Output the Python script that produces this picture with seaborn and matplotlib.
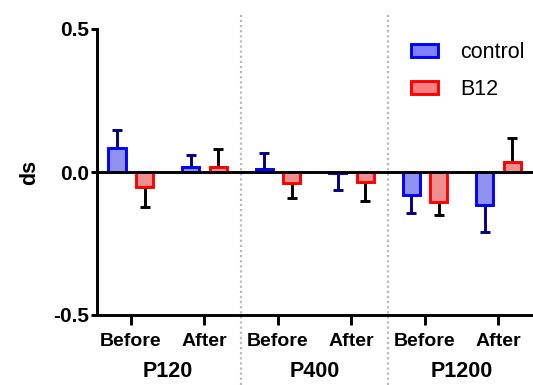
import numpy as np
import pandas as pd
import matplotlib
matplotlib.use("Agg")
import matplotlib.pyplot as plt
import seaborn as sns
from matplotlib.patches import Patch

# ---- data ----
conditions = ["Before", "After", "Before", "After", "Before", "After"]
groups = ["P120", "P400", "P1200"]
series = ["control", "B12"]
control_mean = [0.084, 0.017, 0.012, -0.004, -0.080, -0.115]
control_err = [0.063, 0.042, 0.054, 0.059, 0.063, 0.095]
b12_mean = [-0.052, 0.017, -0.038, -0.035, -0.105, 0.035]
b12_err = [0.070, 0.063, 0.053, 0.066, 0.045, 0.084]
yticks = [-0.5, 0.0, 0.5]

positions = [f"{g}-{c}" for g in groups for c in ["Before", "After"]]
df = pd.DataFrame({
    "pos": positions * 2,
    "series": ["control"] * 6 + ["B12"] * 6,
    "ds": control_mean + b12_mean,
    "err": control_err + b12_err,
})

sns.set_style("ticks")
plt.rcParams["font.family"] = ["Liberation Sans", "DejaVu Sans"]
plt.rcParams["text.color"] = "black"
plt.rcParams["xtick.color"] = "black"
plt.rcParams["ytick.color"] = "black"
plt.rcParams["axes.edgecolor"] = "black"
plt.rcParams["axes.labelcolor"] = "black"

fig = plt.figure(figsize=(5.33, 3.85), dpi=100)
ax = fig.add_axes([97 / 533, 1 - 315 / 385, 436 / 533, 286 / 385])

fill = {"control": "#8080FF", "B12": "#FF8080"}
edge = {"control": "#0000FF", "B12": "#FF0000"}
errc = {"control": "#00007F", "B12": "#000000"}
LW = 2.1

sns.barplot(data=df, x="pos", y="ds", hue="series", order=positions,
            hue_order=series, palette=fill, width=0.75, gap=0.38,
            errorbar=None, legend=False, ax=ax, zorder=3)

# style bars & error bars
n = len(positions)
for i, p in enumerate(ax.patches[:2 * n]):
    s = series[i // n]
    k = i % n
    p.set_edgecolor(edge[s])
    p.set_linewidth(LW)
    xc = p.get_x() + p.get_width() / 2
    m = control_mean[k] if s == "control" else b12_mean[k]
    e = control_err[k] if s == "control" else b12_err[k]
    yerr = [[0], [e]] if m >= 0 else [[e], [0]]
    ax.errorbar([xc], [m], yerr=yerr, fmt="none", ecolor=errc[s],
                elinewidth=LW, capsize=3.4, capthick=LW, zorder=2)

ax.axhline(0, color="black", lw=LW, zorder=4)
ax.set_xlim(-0.46, 5.47)
ax.set_ylim(-0.5, 0.5)
ax.set_yticks(yticks)
ax.set_yticklabels([f"{v:.1f}" for v in yticks], fontsize=15, fontweight="bold")
ax.set_xticks(range(n))
ax.set_xticklabels(conditions, fontsize=14, fontweight="bold")
ax.tick_params(axis="x", length=7, width=LW, pad=6)
ax.tick_params(axis="y", length=4, width=LW, pad=2)
ax.set_xlabel("")
ax.set_ylabel("ds", fontsize=15.5, fontweight="bold")
ax.yaxis.set_label_coords(-0.131, 0.5)
for sp in ["top", "right"]:
    ax.spines[sp].set_visible(False)
for sp in ["left", "bottom"]:
    ax.spines[sp].set_linewidth(LW)

# group labels
for gi, g in enumerate(groups):
    ax.text(2 * gi + 0.5, -0.198, g, transform=ax.get_xaxis_transform(),
            ha="center", va="center", fontsize=15.5, fontweight="bold")

# dotted separators
for xv in [1.5, 3.5]:
    ax.axvline(xv, ymin=-0.245, ymax=1.056, color="#BBBBBB", lw=1.6,
               ls=(0, (1, 1.3)), clip_on=False, zorder=1)

handles = [Patch(facecolor=fill[s], edgecolor=edge[s], linewidth=LW, label=s)
           for s in series]
ax.legend(handles=handles, loc="upper right", bbox_to_anchor=(1.025, 1.022),
          frameon=False, fontsize=15.5, handlelength=1.3, handleheight=0.5,
          handletextpad=1.0, labelspacing=0.75)

fig.savefig("out.png", dpi=100)
